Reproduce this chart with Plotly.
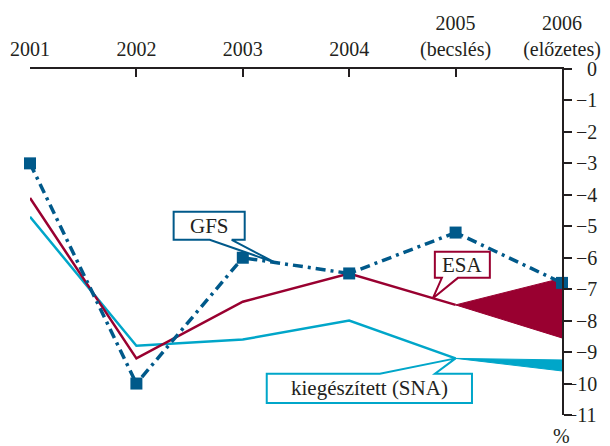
import plotly.graph_objects as go

# ---- data ----
years = ["2001", "2002", "2003", "2004", "2005", "2006"]
year_labels = ["2001", "2002", "2003", "2004", "2005<br>(becslés)", "2006<br>(előzetes)"]
gfs = [-3.0, -10.0, -6.0, -6.5, -5.2, -6.8]
esa = [-4.1, -9.2, -7.4, -6.5, -7.5]
sna = [-4.7, -8.8, -8.6, -8.0, -9.2]
esa_2006_range = [-6.65, -8.55]
sna_2006_range = [-9.25, -9.6]
y_ticks = [0, -1, -2, -3, -4, -5, -6, -7, -8, -9, -10, -11]
y_ticklabels = ["0", "−1", "−2", "−3", "−4", "−5", "−6", "−7", "−8", "−9", "−10", "−11"]
series_names = ["GFS", "ESA", "kiegészített (SNA)"]

# ---- styles ----
C_GFS = "#00598a"
C_ESA = "#990030"
C_SNA = "#00a6c9"
C_AX = "#231f20"
FONT = "Liberation Serif, Times New Roman, serif"

xi = list(range(len(years)))

fig = go.Figure()

# SNA line + fan
fig.add_trace(go.Scatter(x=xi[:len(sna)], y=sna, mode="lines",
                         line=dict(color=C_SNA, width=2.5), showlegend=False, hoverinfo="skip"))
fig.add_trace(go.Scatter(x=[xi[4], xi[5], xi[5], xi[4]],
                         y=[sna[4], sna_2006_range[0], sna_2006_range[1], sna[4]],
                         mode="lines", fill="toself", fillcolor=C_SNA,
                         line=dict(color=C_SNA, width=1), showlegend=False, hoverinfo="skip"))
# ESA line + fan
fig.add_trace(go.Scatter(x=xi[:len(esa)], y=esa, mode="lines",
                         line=dict(color=C_ESA, width=2.5), showlegend=False, hoverinfo="skip"))
fig.add_trace(go.Scatter(x=[xi[4], xi[5], xi[5], xi[4]],
                         y=[esa[4], esa_2006_range[0], esa_2006_range[1], esa[4]],
                         mode="lines", fill="toself", fillcolor=C_ESA,
                         line=dict(color=C_ESA, width=1), showlegend=False, hoverinfo="skip"))
# GFS
fig.add_trace(go.Scatter(x=xi, y=gfs, mode="lines+markers",
                         line=dict(color=C_GFS, width=3.5, dash="10px,5px,3px,5px"),
                         marker=dict(symbol="square", size=12, color=C_GFS),
                         cliponaxis=False, showlegend=False, hoverinfo="skip"))


def lerp(a, b, t):
    return a + (b - a) * t


def callout(x0, x1, ytop, ybot, b1, b2, tip, edge, color):
    tx, ty = tip
    if edge == "bottom":
        pts = [(x0, ytop), (x1, ytop), (x1, ybot), (b2, ybot), (tx, ty), (b1, ybot), (x0, ybot)]
    else:
        pts = [(x0, ybot), (x1, ybot), (x1, ytop), (b2, ytop), (tx, ty), (b1, ytop), (x0, ytop)]
    path = "M " + " L ".join(f"{px},{py}" for px, py in pts) + " Z"
    fig.add_shape(type="path", path=path, xref="x", yref="y",
                  line=dict(color=color, width=2), fillcolor="white", layer="above")


# GFS callout
t = 0.3
callout(1.35, 2.018, -4.54, -5.43, 1.689, 1.896,
        (lerp(xi[2], xi[3], t), lerp(gfs[2], gfs[3], t)), "bottom", C_GFS)
fig.add_annotation(x=(1.35 + 2.018) / 2, y=(-4.54 - 5.43) / 2, xref="x", yref="y",
                   text=series_names[0], showarrow=False,
                   font=dict(family=FONT, size=21, color=C_AX))
# ESA callout
t = 0.787
callout(3.805, 4.322, -5.81, -6.64, 3.871, 4.022,
        (lerp(xi[3], xi[4], t), lerp(esa[3], esa[4], t)), "bottom", C_ESA)
fig.add_annotation(x=(3.805 + 4.322) / 2, y=(-5.81 - 6.64) / 2, xref="x", yref="y",
                   text=series_names[1], showarrow=False,
                   font=dict(family=FONT, size=21, color=C_AX))
# SNA callout
callout(2.225, 4.154, -9.69, -10.62, 3.288, 3.806,
        (xi[4], sna[4]), "top", C_SNA)
fig.add_annotation(x=(2.225 + 4.154) / 2, y=(-9.69 - 10.62) / 2, xref="x", yref="y",
                   text=series_names[2], showarrow=False,
                   font=dict(family=FONT, size=21, color=C_AX))

# right-aligned y tick labels
for v, lab in zip(y_ticks, y_ticklabels):
    fig.add_annotation(x=xi[-1], y=v, xref="x", yref="y", text=lab, showarrow=False,
                       xanchor="right", yanchor="middle", xshift=37,
                       font=dict(family=FONT, size=20, color=C_AX))

# % label
fig.add_annotation(x=xi[-1], y=-0.06, xref="x", yref="paper", text="%", showarrow=False,
                   xanchor="center", yanchor="middle",
                   font=dict(family=FONT, size=20, color=C_AX))

# page has an 8px body margin, so the figure is 8px smaller than the window
fig.update_layout(
    width=602, height=438,
    margin=dict(l=22, r=2, t=61, b=31, autoexpand=False),
    plot_bgcolor="white", paper_bgcolor="white",
    xaxis=dict(domain=[0, 0.9204], range=[0, 5], side="top", automargin=False,
               tickvals=xi, ticktext=year_labels,
               ticks="inside", ticklen=8, tickwidth=2, tickcolor=C_AX,
               showline=True, linewidth=2, linecolor=C_AX,
               showgrid=False, zeroline=False, ticklabelstandoff=3,
               tickfont=dict(family=FONT, size=20, color=C_AX)),
    yaxis=dict(range=[-11, 0], side="right", anchor="x", automargin=False,
               tickvals=y_ticks, ticks="outside", ticklen=8, tickwidth=2, tickcolor=C_AX,
               showticklabels=False, showline=True, linewidth=2, linecolor=C_AX,
               showgrid=False, zeroline=False),
)

fig.write_html("out.html")
